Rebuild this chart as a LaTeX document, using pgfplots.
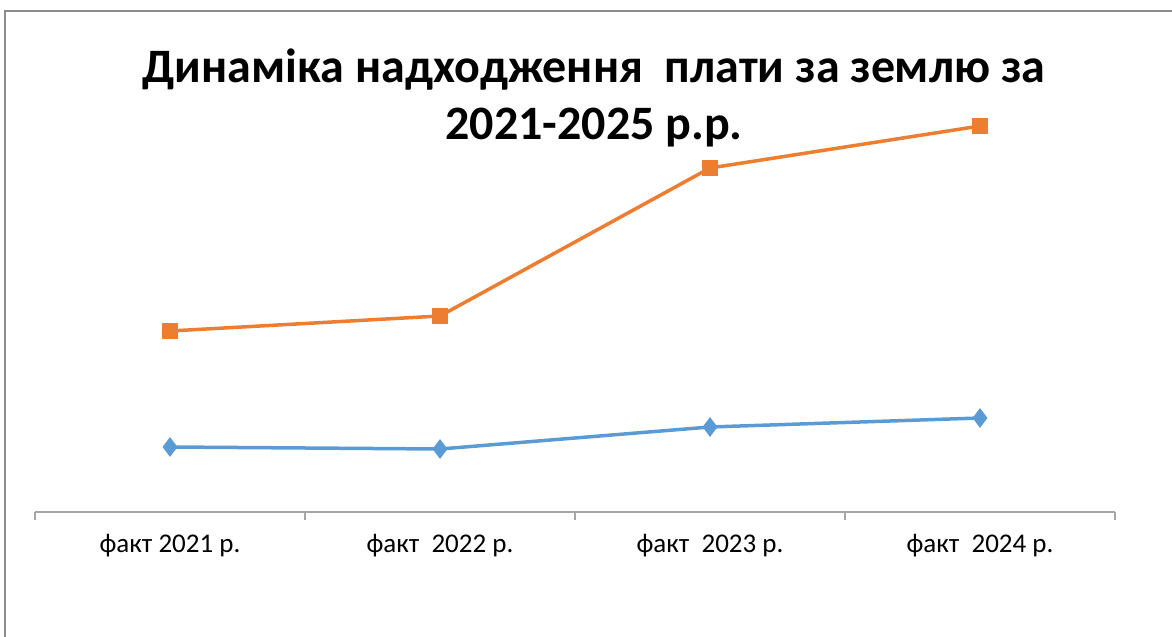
\documentclass[border=0pt]{standalone}
\usepackage{pgfplots}
\pgfplotsset{compat=1.18}
\usepackage{fontspec}
\setmainfont{Carlito}
\definecolor{serblue}{HTML}{5B9BD5}
\definecolor{serorange}{HTML}{ED7D31}
\definecolor{framegray}{HTML}{8C8C8C}
\definecolor{axgray}{HTML}{A6A6A6}

\begin{document}
\begin{tikzpicture}
% page 1172x637 px at 0.5bp per px
\path[use as bounding box] (0,0) rectangle (586bp,318.5bp);
\draw[framegray, line width=1bp] (2.5bp,0) -- (2.5bp,313bp) -- (586bp,313bp);

\node[anchor=base, font=\bfseries\fontsize{24bp}{28bp}\selectfont] at (297bp,277bp) {Динаміка надходження\ \ плати за землю за};
\node[anchor=base, font=\bfseries\fontsize{24bp}{28bp}\selectfont] at (297bp,248.5bp) {2021-2025 р.р.};

\begin{axis}[
  at={(17.5bp,62.5bp)}, anchor=south west,
  width=540bp, height=200bp, scale only axis,
  xmin=-0.5, xmax=3.5, ymin=0, ymax=400,
  axis x line*=bottom, axis y line=none,
  axis line style={axgray, line width=0.75bp},
  xtick={0,1,2,3},
  xticklabels={факт 2021 р., факт\ \ 2022 р., факт\ \ 2023 р., факт\ \ 2024 р.},
  major tick length=0pt,
  xticklabel style={anchor=base, yshift=-20.5bp, font=\fontsize{13.5bp}{16bp}\selectfont},
  extra x ticks={-0.5,0.5,1.5,2.5,3.5},
  extra x tick labels={},
  extra x tick style={major tick length=4bp, tick align=outside, tick style={axgray, line width=0.75bp}},
  clip=false,
]
\addplot[serblue, line width=1.75bp, mark=diamond*, mark size=3.5bp, mark options={solid, fill=serblue}]
  coordinates {(0,65) (1,63) (2,85) (3,94)};
\addplot[serorange, line width=1.75bp, mark=square*, mark size=3bp, mark options={solid, fill=serorange}]
  coordinates {(0,181) (1,196) (2,344) (3,386)};
\end{axis}
\end{tikzpicture}
\end{document}
